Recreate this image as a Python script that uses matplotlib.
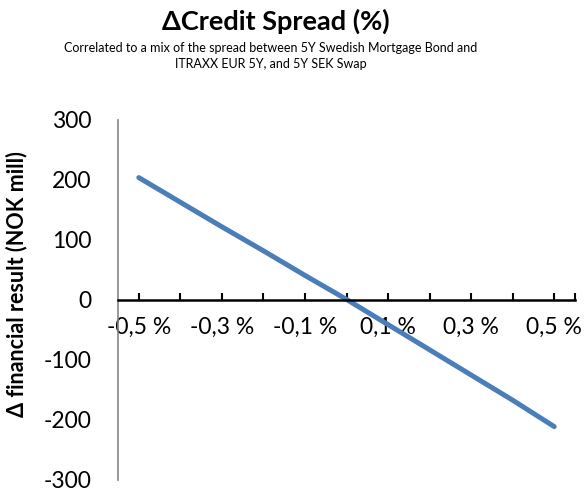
import matplotlib
matplotlib.use("Agg")
import matplotlib.pyplot as plt

categories = ["-0,5 %", "-0,4 %", "-0,3 %", "-0,2 %", "-0,1 %", "0,0 %",
              "0,1 %", "0,2 %", "0,3 %", "0,4 %", "0,5 %"]
values = [204, 163, 122, 82, 41, 1, -41, -83, -125, -167, -211]
y_ticks = [-300, -200, -100, 0, 100, 200, 300]

plt.rcParams['font.family'] = ['Lato', 'DejaVu Sans']

fig = plt.figure(figsize=(5.84, 4.91), dpi=100)
W, H = 584, 491
left, right, top, bottom = 118, 575, 120, 480
ax = fig.add_axes([left / W, 1 - bottom / H, (right - left) / W, (bottom - top) / H])

x = list(range(len(categories)))
ax.plot(x, values, color='#4a7ebb', lw=3.6, solid_capstyle='round')

ax.set_xlim(-0.5, len(categories) - 0.5)
ax.set_ylim(-300, 300)

ax.spines['top'].set_visible(False)
ax.spines['right'].set_visible(False)
ax.spines['left'].set_color('#868686')
ax.spines['left'].set_linewidth(1.2)
ax.spines['bottom'].set_position(('data', 0))
ax.spines['bottom'].set_color('black')
ax.spines['bottom'].set_linewidth(1.8)

ticks = x + [len(categories) - 0.5]
labels = [c if i % 2 == 0 else '' for i, c in enumerate(categories)] + ['']
ax.set_xticks(ticks)
ax.set_xticklabels(labels, fontsize=16.5)
ax.tick_params(axis='x', direction='in', length=5, width=1.5, color='black', pad=12)

ax.set_yticks(y_ticks)
ax.set_yticklabels([str(v) for v in y_ticks], fontsize=16.5)
ax.tick_params(axis='y', length=0, pad=19)

fig.text(276 / W, 1 - 21 / H, "\u0394Credit Spread (%)", ha='center', va='center',
         fontsize=19.5, fontweight='bold')
fig.text(271 / W, 1 - 48 / H, "Correlated to a mix of the spread between 5Y Swedish Mortgage Bond and",
         ha='center', va='center', fontsize=9)
fig.text(271 / W, 1 - 64 / H, "ITRAXX EUR 5Y, and 5Y SEK Swap",
         ha='center', va='center', fontsize=9)
fig.text(17 / W, 1 - 284 / H, "\u0394 financial result (NOK mill)", rotation=90,
         ha='center', va='center', fontsize=15.5, fontweight='bold')

fig.savefig("out.png", dpi=100)
